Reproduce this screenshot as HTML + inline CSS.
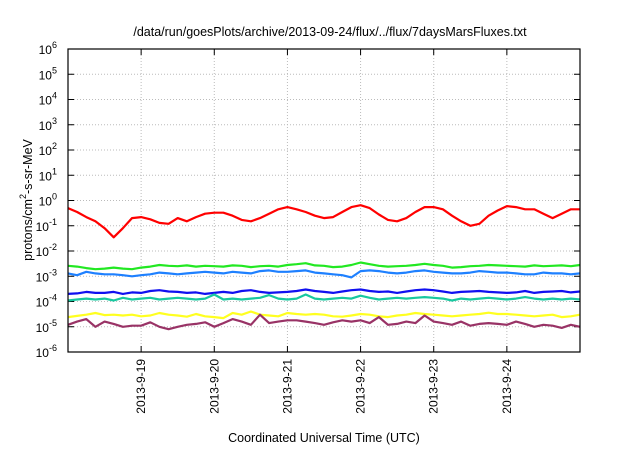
<!DOCTYPE html>
<html><head><meta charset="utf-8"><style>
body{margin:0;background:#fff;width:640px;height:448px;overflow:hidden}
svg{font-family:"Liberation Sans",sans-serif}
</style></head><body>
<svg id="c" width="640" height="448"></svg>
<script>
const tickDays=[19,20,21,22,23,24];
const tickLabels=["2013-9-19","2013-9-20","2013-9-21","2013-9-22","2013-9-23","2013-9-24"];
const yExps=[-6,-5,-4,-3,-2,-1,0,1,2,3,4,5,6];
const seriesNames=["red","green","light-blue","blue","teal","yellow","purple"];
const seriesColors=["#ff0000","#22e822","#1e80ff","#1010f0","#18c8a0","#ffff20","#993366"];
const red=[0.5,0.35,0.22,0.15,0.08,0.035,0.08,0.2,0.22,0.18,0.13,0.12,0.2,0.15,0.22,0.3,0.33,0.33,0.25,0.17,0.15,0.2,0.3,0.45,0.55,0.45,0.35,0.25,0.2,0.22,0.35,0.55,0.65,0.5,0.28,0.17,0.15,0.2,0.35,0.55,0.55,0.45,0.25,0.15,0.1,0.12,0.25,0.4,0.6,0.55,0.45,0.45,0.3,0.2,0.3,0.45,0.45];
const green=[2.6,2.4,2.1,1.9,2.0,2.2,2.0,1.9,2.2,2.4,2.8,2.6,2.5,2.7,2.4,2.6,2.5,2.4,2.7,2.6,2.3,2.5,2.6,2.4,2.8,3.0,3.3,2.7,2.6,2.3,2.4,2.8,3.5,3.0,2.6,2.4,2.5,2.6,2.8,3.1,2.8,2.6,2.2,2.3,2.5,2.6,2.8,2.7,2.6,2.5,2.4,2.7,2.5,2.6,2.7,2.5,2.8];
const lightBlue=[1.3,1.1,1.5,1.3,1.2,1.2,1.1,1.0,1.1,1.2,1.4,1.3,1.2,1.3,1.4,1.5,1.4,1.3,1.5,1.4,1.3,1.6,1.7,1.5,1.5,1.6,1.7,1.4,1.3,1.2,1.1,0.9,1.6,1.7,1.6,1.4,1.3,1.4,1.6,1.7,1.5,1.4,1.3,1.3,1.4,1.6,1.5,1.4,1.4,1.3,1.2,1.2,1.4,1.3,1.3,1.2,1.3];
const blue=[2.0,2.1,2.4,2.2,2.2,2.4,2.0,2.3,2.2,2.6,2.8,2.5,2.4,2.2,2.3,2.0,2.2,2.4,2.2,2.6,2.8,2.4,2.2,2.3,2.4,2.6,3.0,2.6,2.4,2.2,2.5,2.8,3.0,2.6,2.4,2.5,2.2,2.5,2.8,3.0,2.8,2.5,2.2,2.4,2.5,2.6,2.4,2.3,2.2,2.3,2.6,2.2,2.4,2.5,2.6,2.3,2.5];
const teal=[1.1,1.2,1.3,1.2,1.3,1.1,1.4,1.2,1.3,1.4,1.2,1.3,1.4,1.3,1.2,1.3,1.9,1.2,1.3,1.2,1.3,1.4,1.8,1.3,1.2,1.3,1.9,1.3,1.2,1.3,1.4,1.3,1.7,1.4,1.2,1.3,1.4,1.3,1.4,1.5,1.4,1.3,1.1,1.3,1.2,1.3,1.4,1.3,1.2,1.3,1.5,1.3,1.2,1.3,1.2,1.3,1.2];
const yellow=[2.4,2.7,3.0,3.5,2.9,3.0,2.8,3.0,2.6,2.8,3.5,3.0,2.8,2.5,3.2,2.6,2.4,2.2,3.5,3.0,4.0,3.0,2.8,2.6,3.5,3.2,3.0,3.2,3.0,2.6,2.5,2.8,3.2,3.0,2.6,2.4,2.8,3.0,3.5,3.2,3.0,2.8,2.6,2.8,3.0,3.2,3.6,3.2,3.2,3.0,2.8,2.6,2.8,3.0,2.4,2.6,3.0];
const purple=[1.2,1.6,2.0,1.0,1.6,1.3,1.0,1.1,1.1,1.5,1.0,0.8,1.0,1.2,1.3,1.5,1.0,1.4,2.0,1.6,1.2,3.0,1.4,1.6,1.8,1.8,1.6,1.4,1.2,1.5,1.8,1.6,1.8,1.4,2.4,1.2,1.3,1.6,1.4,2.8,1.6,1.4,1.2,1.6,1.1,1.3,1.4,1.3,1.2,1.6,1.3,1.0,1.2,1.1,0.9,1.2,1.0];
const seriesData=[red,green.map(v=>v*1e-3),lightBlue.map(v=>v*1e-3),blue.map(v=>v*1e-4),teal.map(v=>v*1e-4),yellow.map(v=>v*1e-5),purple.map(v=>v*1e-5)];
const startDay=18,endDay=25,stepDay=1/8;
const L=68,R=580,T=49,B=352;
const xs=d=>L+(d-startDay)/(endDay-startDay)*(R-L);
const ys=v=>B-(Math.log10(v)+6)/12*(B-T);
const NS="http://www.w3.org/2000/svg",svg=document.getElementById('c');
function mk(t,a,p){const e=document.createElementNS(NS,t);for(const k in a)e.setAttribute(k,a[k]);(p||svg).appendChild(e);return e;}
let e;
e=mk('text',{x:330,y:36,'text-anchor':'middle','font-size':12.5,fill:'#000'});e.textContent='/data/run/goesPlots/archive/2013-09-24/flux/../flux/7daysMarsFluxes.txt';


yExps.forEach(p=>{const y=B-(p+6)/12*(B-T);
 if(p>-6&&p<6){const g=mk('line',{x1:L,x2:R,y1:y,y2:y,stroke:'#bbb','stroke-dasharray':'1,2','stroke-width':1});
 
 }
 mk('line',{x1:L,x2:L+6,y1:y,y2:y,stroke:'#000'});mk('line',{x1:R,x2:R-6,y1:y,y2:y,stroke:'#000'});
 const t=mk('text',{x:57,y:y+5,'text-anchor':'end','font-size':12,fill:'#000'});
 
 
 t.innerHTML='10<tspan dy="-6" font-size="9">'+p+'</tspan>';});
tickDays.forEach((d,i)=>{const x=xs(d);
 const g=mk('line',{x1:x,x2:x,y1:T,y2:B,stroke:'#bbb','stroke-dasharray':'1,2'});
 
 
 mk('line',{x1:x,x2:x,y1:B,y2:B-6,stroke:'#000'});mk('line',{x1:x,x2:x,y1:T,y2:T+6,stroke:'#000'});
 const t=mk('text',{x:0,y:0,'text-anchor':'end','font-size':12,fill:'#000',transform:`translate(${x+4},${B+7}) rotate(-90)`});
 
 
 t.textContent=tickLabels[i];});
seriesData.forEach((arr,si)=>{const pts=arr.map((v,i)=>xs(startDay+i*stepDay).toFixed(1)+','+ys(v).toFixed(1)).join(' ');
 const pl=mk('polyline',{points:pts,fill:'none',stroke:seriesColors[si],'stroke-width':2.2,'stroke-linejoin':'round'});
 
 });
e=mk('rect',{x:L,y:T,width:R-L,height:B-T,fill:'none',stroke:'#000','stroke-width':1.2});


e=mk('text',{x:0,y:0,'text-anchor':'middle','font-size':12.5,fill:'#000',transform:'translate(32,200) rotate(-90)'});
e.innerHTML='protons/cm<tspan dy="-6" font-size="9">2</tspan><tspan dy="6">-s-sr-MeV</tspan>';


e=mk('text',{x:324,y:442,'text-anchor':'middle','font-size':12.5,fill:'#000'});e.textContent='Coordinated Universal Time (UTC)';


</script></body></html>
